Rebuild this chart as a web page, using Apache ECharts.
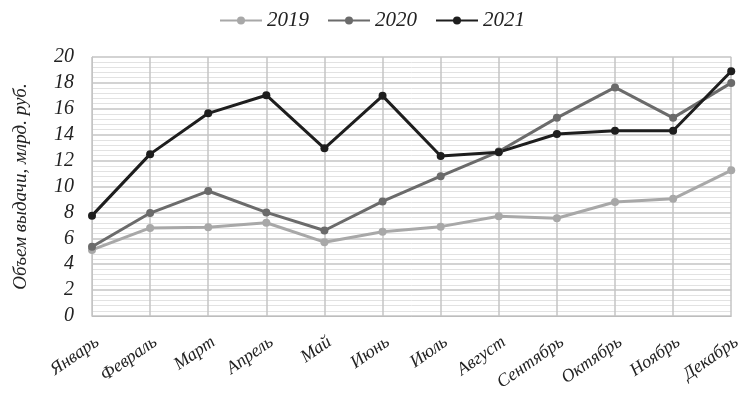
<!DOCTYPE html>
<html>
<head>
<meta charset="utf-8">
<script src="https://cdn.jsdelivr.net/npm/echarts@6/dist/echarts.min.js"></script>
<style>
html,body{margin:0;padding:0;background:#fff;}
#chart{width:744px;height:394px;}
</style>
</head>
<body>
<div id="chart"></div>
<script>
// Месяцы и объём выдачи по годам, млрд. руб.
const months = ['Январь','Февраль','Март','Апрель','Май','Июнь','Июль','Август','Сентябрь','Октябрь','Ноябрь','Декабрь'];
const v2019 = [5.1, 6.8, 6.85, 7.2, 5.7, 6.5, 6.9, 7.7, 7.55, 8.8, 9.05, 11.25];
const v2020 = [5.35, 7.95, 9.65, 8.0, 6.6, 8.85, 10.8, 12.7, 15.3, 17.65, 15.3, 18.0];
const v2021 = [7.75, 12.5, 15.65, 17.05, 12.95, 17.0, 12.35, 12.65, 14.05, 14.3, 14.3, 18.9];
const yearNames = ['2019','2020','2021'];
const yearColors = ['#a8a8a8','#6b6b6b','#1e1e1e'];

const font = '"Liberation Serif", "Times New Roman", serif';
const chart = echarts.init(document.getElementById('chart'));

function line(name, data, color) {
  return {
    name: name, type: 'line', data: data,
    symbol: 'circle', symbolSize: 8,
    lineStyle: {color: color, width: 3},
    itemStyle: {color: color},
    z: 3
  };
}

chart.setOption({
  animation: false,
  backgroundColor: '#fff',
  textStyle: {fontFamily: font},
  legend: {
    top: 5, left: 'center',
    itemWidth: 42, itemHeight: 10, itemGap: 18,
    textStyle: {fontFamily: font, fontStyle: 'italic', fontSize: 21, color: '#222'},
    data: yearNames
  },
  grid: {left: 92, right: 7, top: 57, bottom: 78},
  xAxis: {
    type: 'category', data: months, boundaryGap: false,
    axisLine: {lineStyle: {color: '#bdbdbd', width: 1}},
    axisTick: {show: false},
    splitLine: {show: true, lineStyle: {color: '#c4c4c4', width: 1.5}},
    axisLabel: {
      rotate: 35, margin: 17, interval: 0, verticalAlign: 'top',
      fontFamily: font, fontStyle: 'italic', fontSize: 18, color: '#222'
    }
  },
  yAxis: {
    type: 'value', min: 0, max: 20, interval: 2,
    name: 'Объем выдачи, млрд. руб.',
    nameLocation: 'middle', nameGap: 62, nameRotate: 90,
    nameTextStyle: {fontFamily: font, fontStyle: 'italic', fontSize: 19, color: '#222'},
    axisLine: {show: true, lineStyle: {color: '#c4c4c4'}},
    axisTick: {show: false},
    axisLabel: {fontFamily: font, fontStyle: 'italic', fontSize: 20, color: '#222', margin: 18},
    splitLine: {show: true, lineStyle: {color: '#c4c4c4', width: 1.5}},
    minorTick: {show: false, splitNumber: 5},
    minorSplitLine: {show: true, lineStyle: {color: '#e2e2e2', width: 1}}
  },
  series: [
    line(yearNames[0], v2019, yearColors[0]),
    line(yearNames[1], v2020, yearColors[1]),
    line(yearNames[2], v2021, yearColors[2])
  ]
});
</script>
</body>
</html>
